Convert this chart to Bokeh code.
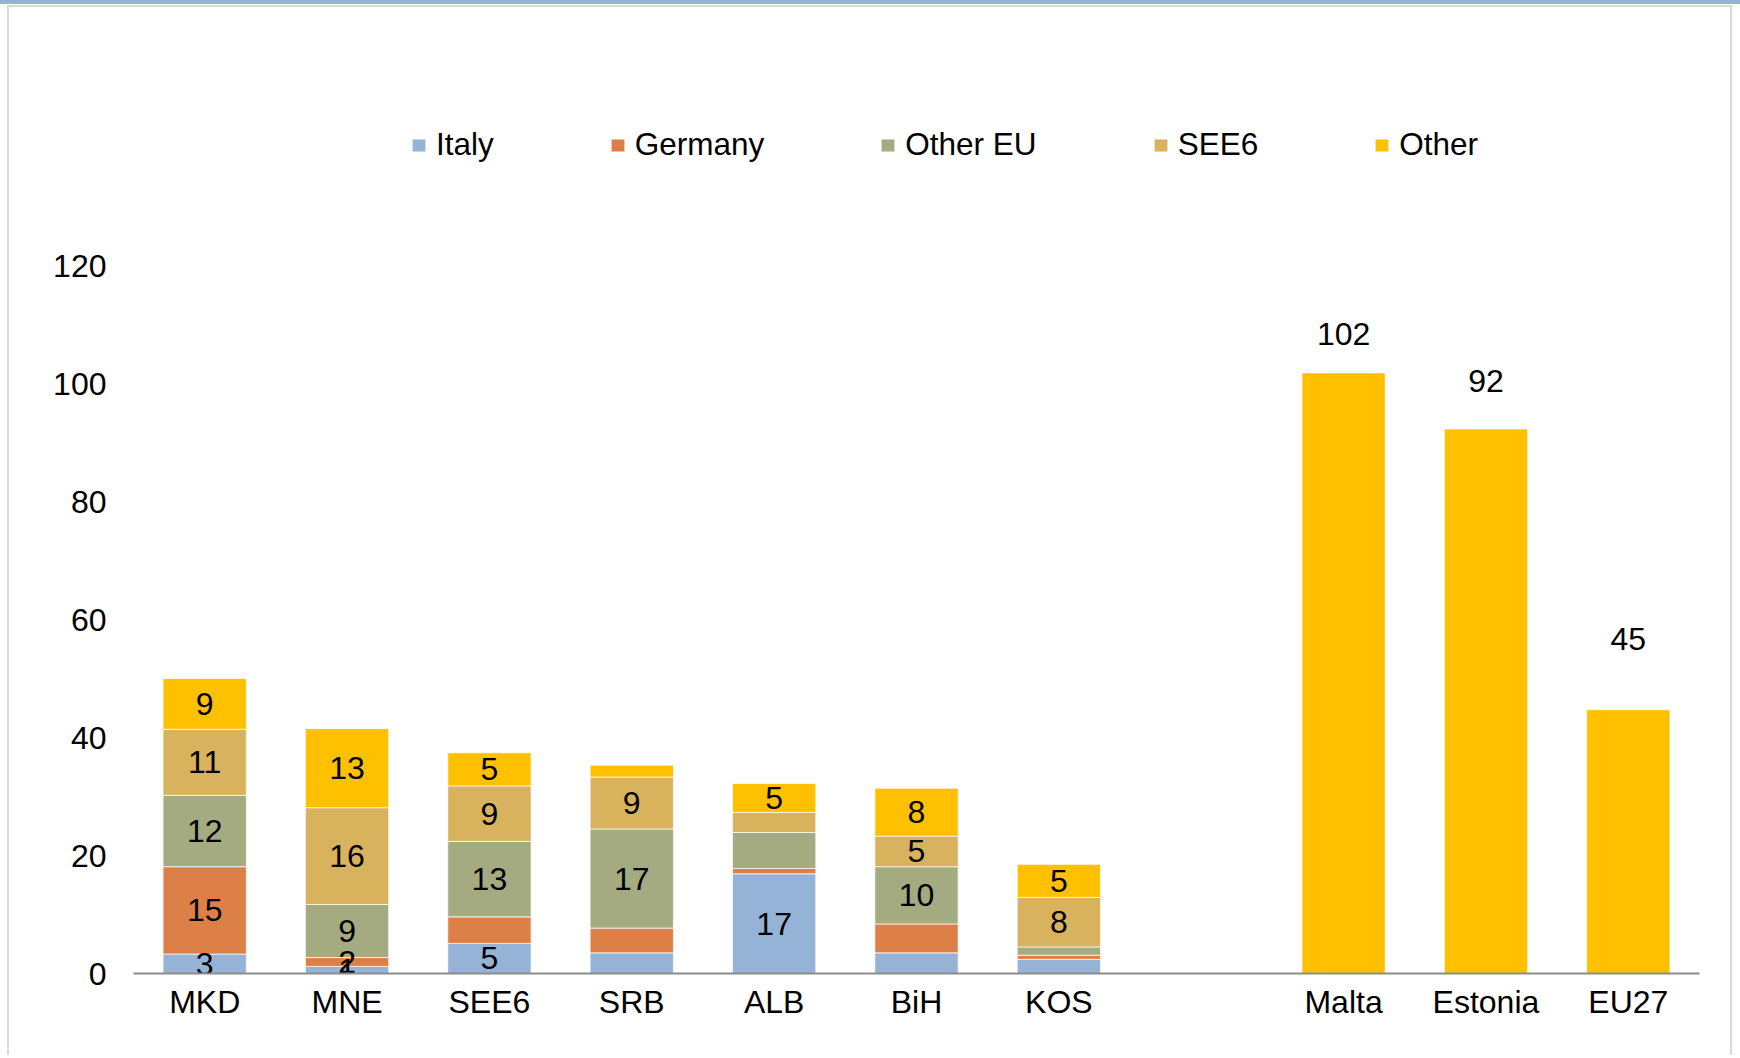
from bokeh.plotting import figure
from bokeh.layouts import column
from bokeh.models import FactorRange, Range1d, FixedTicker, ColumnDataSource, Legend, LegendItem, Div
from bokeh.core.properties import value
from bokeh.embed import file_html
from bokeh.resources import INLINE

# ---- data ----
wb = ["MKD", "MNE", "SEE6", "SRB", "ALB", "BiH", "KOS"]
cmp_cats = ["Malta", "Estonia", "EU27"]
gap = [" "]
categories = wb + gap + cmp_cats

series = ["Italy", "Germany", "Other EU", "SEE6", "Other"]
italy    = [3.3, 1.2, 5.1, 3.5, 16.9, 3.5, 2.4]
germany  = [14.8, 1.5, 4.5, 4.2, 0.9, 4.9, 0.7]
other_eu = [12.1, 9.0, 12.8, 16.8, 6.1, 9.7, 1.4]
see6     = [11.2, 16.4, 9.4, 8.8, 3.4, 5.2, 8.4]
other    = [8.6, 13.4, 5.6, 2.0, 4.9, 8.1, 5.6]

lab_italy    = ["3", "1", "5", "", "17", "", ""]
lab_germany  = ["15", "2", "", "", "", "", ""]
lab_other_eu = ["12", "9", "13", "17", "", "10", ""]
lab_see6     = ["11", "16", "9", "9", "", "5", "8"]
lab_other    = ["9", "13", "5", "", "5", "8", "5"]

cmp_vals = [101.8, 92.3, 44.7]
cmp_labels = ["102", "92", "45"]

y_ticks = [0, 20, 40, 60, 80, 100, 120]

# styling
colors = ["#95B3D7", "#DD8047", "#A5AB81", "#D8B25C", "#FFC000"]
cmp_label_dy = [-39, -48, -71]   # pixel offsets of the labels above the bars
FONT = "Liberation Sans"
FS = "32px"
LFS = "31.5px"

# ---- figure ----
W, H = 1725, 1050
fig = figure(x_range=FactorRange(*categories, range_padding=0),
             y_range=Range1d(0, 160.34),
             width=W, height=H, output_backend="svg", toolbar_location=None,
             min_border_left=124, min_border_right=35, min_border_top=20,
             min_border_bottom=84)
fig.margin = (1, 0, 0, 7)
fig.styles = {"border-top": "2px solid #D9D9D9",
              "border-left": "2px solid #D9D9D9",
              "border-right": "2px solid #D9D9D9"}
fig.outline_line_color = None
fig.xgrid.visible = False
fig.ygrid.visible = False

vals = [italy, germany, other_eu, see6, other]
labs = [lab_italy, lab_germany, lab_other_eu, lab_see6, lab_other]
data = {"cat": wb}
for s, v in zip(series, vals):
    data[s] = v
src = ColumnDataSource(data)
renderers = fig.vbar_stack(series, x="cat", width=0.585, source=src, color=colors,
                           line_color="white", line_alpha=0.7, line_width=1)

# labels inside segments
bottoms = [0.0] * len(wb)
for v, l in zip(vals, labs):
    mids = [b + x / 2 for b, x in zip(bottoms, v)]
    lsrc = ColumnDataSource(dict(cat=wb, y=mids, t=l))
    fig.text(x="cat", y="y", text="t", source=lsrc, text_align="center",
             text_baseline="middle", text_font=value(FONT), text_font_size=FS,
             text_color="black")
    bottoms = [b + x for b, x in zip(bottoms, v)]

csrc = ColumnDataSource(dict(cat=cmp_cats, v=cmp_vals, t=cmp_labels, dy=cmp_label_dy))
fig.vbar(x="cat", top="v", width=0.585, source=csrc, color=colors[4],
         line_color="white", line_alpha=0.7, line_width=1)
fig.text(x="cat", y="v", text="t", source=csrc, text_align="center",
         text_baseline="middle", y_offset="dy", text_font=value(FONT),
         text_font_size=FS, text_color="black")

# axes
fig.yaxis.ticker = FixedTicker(ticks=y_ticks)
fig.yaxis.axis_line_color = None
fig.yaxis.major_tick_line_color = None
fig.yaxis.minor_tick_line_color = None
fig.yaxis.major_label_standoff = 21
fig.yaxis.major_label_text_font = FONT
fig.yaxis.major_label_text_font_size = FS
fig.yaxis.major_label_text_color = "black"

fig.xaxis.axis_line_color = "#8C8C8C"
fig.xaxis.axis_line_width = 2
fig.xaxis.major_tick_line_color = None
fig.xaxis.minor_tick_line_color = None
fig.xaxis.major_label_standoff = 4
fig.xaxis.major_label_text_font = FONT
fig.xaxis.major_label_text_font_size = FS
fig.xaxis.major_label_text_color = "black"

legend = Legend(items=[LegendItem(label=s, renderers=[r]) for s, r in zip(series, renderers)],
                orientation="horizontal", location=(277, 810),
                glyph_width=17, glyph_height=16, label_standoff=9, spacing=115,
                padding=0, margin=0, border_line_color=None,
                background_fill_alpha=0,
                label_text_font=FONT, label_text_font_size=LFS,
                label_text_color="black")
fig.add_layout(legend, "center")

band = Div(width=1740, height=4, margin=0, styles={"background-color": "#95B3D7"})
p = column(band, fig, spacing=0)

open("out.html", "w").write(file_html(p, INLINE))
